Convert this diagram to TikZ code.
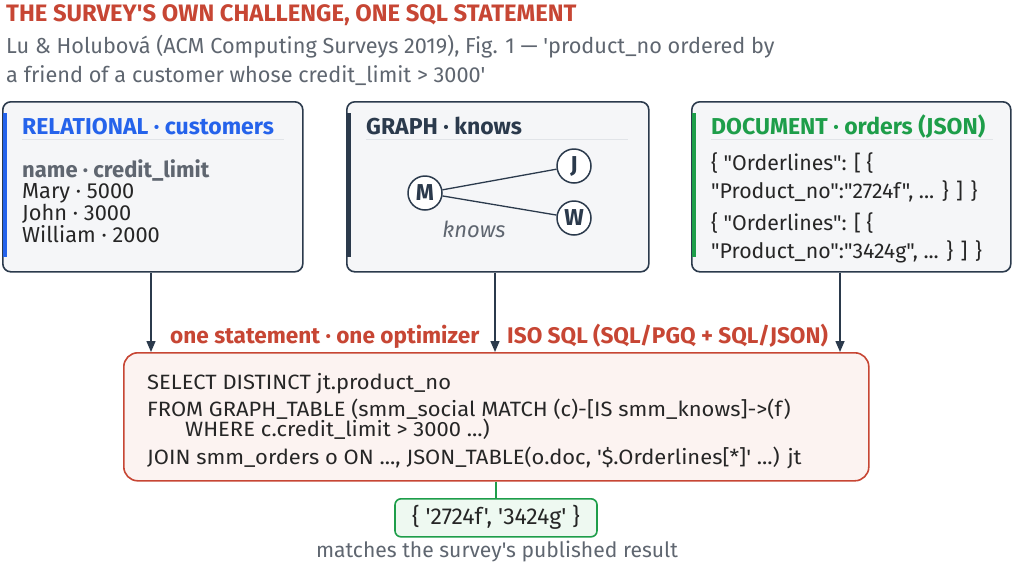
\documentclass[tikz,border=0pt]{standalone}
\usepackage{fontspec}
\setmainfont{Fira Sans}[Ligatures=TeXReset]
\newfontfamily\sqlfont{Fira Sans}[Ligatures=TeXReset,FakeStretch=1.06]
\usetikzlibrary{arrows.meta}
\definecolor{ink}{HTML}{2B3A4C}
\definecolor{redc}{HTML}{C74634}
\definecolor{bluec}{HTML}{2563EB}
\definecolor{greenc}{HTML}{1E9E4A}
\definecolor{greyt}{HTML}{5F6670}
\definecolor{panel}{HTML}{F5F6F8}
\definecolor{rule}{HTML}{E1E4E8}
\definecolor{sqlfill}{HTML}{FCF3F1}
\definecolor{resfill}{HTML}{EEF9F1}
\tikzset{
  panelbox/.style={draw=ink, line width=1.6pt, fill=panel, rounded corners=8pt},
  txt/.style={anchor=base west, inner sep=0pt, font=\fontsize{21.8}{24}\selectfont, text=black!85},
  doctxt/.style={anchor=base west, inner sep=0pt, font=\fontsize{21.3}{23}\selectfont, text=black!85},
  hdr/.style={anchor=base west, inner sep=0pt, font=\fontsize{23}{25}\selectfont\bfseries},
  sqltxt/.style={anchor=base west, inner sep=0pt, font=\sqlfont\fontsize{20.7}{23}\selectfont, text=black!85},
  gnode/.style={circle, draw=ink, line width=1.5pt, fill=white, minimum size=34pt, inner sep=0pt, font=\fontsize{23}{23}\selectfont\bfseries, text=ink},
  feed/.style={draw=ink, line width=1.4pt, -{Triangle[length=11pt,width=9pt]}},
  lbl/.style={anchor=base west, inner sep=0pt, font=\fontsize{22.6}{24}\selectfont\bfseries, text=redc},
}
\begin{document}
\begin{tikzpicture}[x=1pt,y=-1pt]
\useasboundingbox (0,0) rectangle (1024,568);
\fill[white] (0,0) rectangle (1024,568);
% title
\node[anchor=base west, inner sep=0pt, font=\fontsize{23.8}{26}\selectfont\bfseries, text=redc] (title) at (6,21) {THE SURVEY'S OWN CHALLENGE, ONE SQL STATEMENT};
\node[anchor=base west, inner sep=0pt, font=\fontsize{21.7}{24}\selectfont, text=greyt] (sub1) at (6,53) {Lu \& Holubová (ACM Computing Surveys 2019), Fig. 1 — 'product\_no ordered by};
\node[anchor=base west, inner sep=0pt, font=\fontsize{21.7}{24}\selectfont, text=greyt] (sub2) at (6,82) {a friend of a customer whose credit\_limit > 3000'};

% panels
\node[panelbox, minimum width=300pt, minimum height=170pt, anchor=north west] (rel) at (2,101) {};
\node[panelbox, minimum width=302pt, minimum height=170pt, anchor=north west] (gra) at (346,101) {};
\node[panelbox, minimum width=319pt, minimum height=170pt, anchor=north west] (doc) at (691,101) {};
\fill[bluec] (3,113) rectangle (7,257);
\fill[ink] (347,113) rectangle (351,257);
\fill[greenc] (692,113) rectangle (696,257);

% relational
\node[hdr, text=bluec] (relh) at (22,134) {RELATIONAL · customers};
\draw[rule, line width=1pt] (22,139.5) -- (284,139.5);
\node[hdr, font=\fontsize{22}{24}\selectfont\bfseries, text=greyt] (relc) at (22,177) {name · credit\_limit};
\node[txt] (r1) at (22,198) {Mary · 5000};
\node[txt] (r2) at (22,220) {John · 3000};
\node[txt] (r3) at (22,242) {William · 2000};

% graph
\node[hdr, text=ink] (grah) at (366,134) {GRAPH · knows};
\draw[rule, line width=1pt] (366,139.5) -- (628,139.5);
\node[gnode] (M) at (425,193) {M};
\node[gnode] (J) at (574,166) {J};
\node[gnode] (W) at (574,218) {W};
\draw[ink, line width=1.3pt] (M) -- (J);
\draw[ink, line width=1.3pt] (M) -- (W);
\node[anchor=center, inner sep=0pt, font=\fontsize{22}{24}\selectfont\itshape, text=greyt] (kn) at (474,229) {knows};

% document
\node[hdr, text=greenc] (doch) at (711,134) {DOCUMENT · orders (JSON)};
\draw[rule, line width=1pt] (711,139.5) -- (993,139.5);
\node[doctxt] (d1) at (711,170) {\{ "Orderlines": [ \{};
\node[doctxt] (d2) at (711,198) {"Product\_no":"2724f", ... \} ] \}};
\node[doctxt] (d3) at (711,230) {\{ "Orderlines": [ \{};
\node[doctxt] (d4) at (711,258) {"Product\_no":"3424g", ... \} ] \}};

% SQL box
\node[draw=redc, line width=1.6pt, fill=sqlfill, rounded corners=14pt, minimum width=745pt, minimum height=128pt, anchor=north west] (sql) at (123,352) {};
\node[sqltxt] (s1) at (147,389) {SELECT DISTINCT jt.product\_no};
\node[sqltxt] (s2) at (147,416) {FROM GRAPH\_TABLE (smm\_social MATCH (c)-[IS smm\_knows]->(f)};
\node[sqltxt] (s3) at (185,436) {WHERE c.credit\_limit > 3000 ...)};
\node[sqltxt] (s4) at (147,464) {JOIN smm\_orders o ON ..., JSON\_TABLE(o.doc, '\$.Orderlines[*]' ...) jt};

% feeds
\coordinate (a1) at (151,352);
\coordinate (a2) at (495,352);
\coordinate (a3) at (840,352);
\draw[feed] (rel.south -| a1) -- (a1);
\draw[feed] (gra.south -| a2) -- (a2);
\draw[feed] (doc.south -| a3) -- (a3);
\node[lbl] (l1) at (170,343) {one statement · one optimizer};
\node[lbl] (l2) at (507,343) {ISO SQL (SQL/PGQ + SQL/JSON)};

% result
\node[draw=greenc, line width=1.6pt, fill=resfill, rounded corners=6pt, minimum width=202pt, minimum height=38pt, anchor=north, font=\fontsize{23}{24}\selectfont, text=black!85] (res) at (496,498) {\{ '2724f', '3424g' \}};
\draw[greenc, line width=1.6pt] (sql.south -| res.north) -- (res.north);
\node[anchor=center, inner sep=0pt, font=\fontsize{21.1}{23}\selectfont, text=greyt] (note) at (497,552) {matches the survey's published result};
\end{tikzpicture}
\end{document}
